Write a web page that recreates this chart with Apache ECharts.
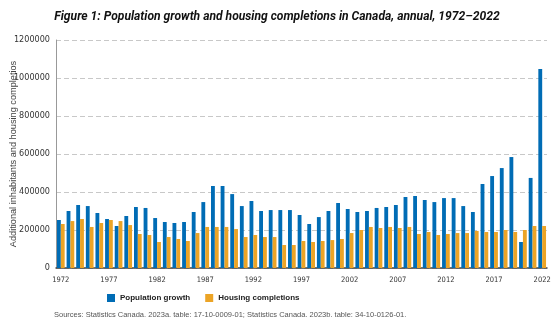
<!DOCTYPE html>
<html>
<head>
<meta charset="utf-8">
<script src="https://cdn.jsdelivr.net/npm/echarts@6/dist/echarts.min.js"></script>
<style>
  html, body { margin: 0; padding: 0; background: #fff; }
  #chart { width: 554px; height: 330px; }
</style>
</head>
<body>
<div id="chart"></div>
<script>
// Annual figures, 1972–2022
const years = [];
for (let y = 1972; y <= 2022; y++) years.push(String(y));

const populationGrowth = [
  252600, 300000, 331600, 326000, 289500, 258000, 221000, 273700, 321000, 316000,
  263000, 242000, 237000, 242000, 294700, 347000, 431600, 431600, 389000, 326000,
  352600, 300000, 305000, 305000, 305000, 279000, 231600, 268000, 300000, 342000,
  310500, 294700, 300000, 316000, 321000, 331600, 373700, 379000, 358000, 347000,
  368000, 368000, 326000, 294700, 442000, 484000, 526000, 584000, 137000, 474000,
  1047000
];

const housingCompletions = [
  231600, 247000, 258000, 216000, 237000, 252600, 247000, 226000, 179000, 173700,
  137000, 163000, 152600, 142000, 184000, 216000, 216000, 216000, 205000, 163000,
  173700, 163000, 163000, 121000, 121000, 142000, 137000, 142000, 147000, 152600,
  184000, 200000, 216000, 210500, 216000, 210500, 216000, 179000, 189500, 173700,
  179000, 184000, 184000, 195000, 189500, 189500, 200000, 189500, 200000, 221000,
  221000
];

const yTicks = [0, 200000, 400000, 600000, 800000, 1000000, 1200000];

const BLUE = '#006cb5';
const ORANGE = '#eca426';
const FONT = '"Liberation Sans", Arial, sans-serif';
const NARROW = '"Liberation Sans Narrow", "DejaVu Sans Condensed", "Liberation Sans", sans-serif';

const chart = echarts.init(document.getElementById('chart'), null, { renderer: 'canvas' });

chart.setOption({
  animation: false,
  backgroundColor: '#fff',
  title: {
    text: 'Figure 1: Population growth and housing completions in Canada, annual, 1972–2022',
    left: 'center',
    top: 6,
    textStyle: {
      fontFamily: 'Roboto, sans-serif',
      fontStyle: 'italic',
      fontWeight: 'bold',
      fontSize: 12.1,
      color: '#111'
    }
  },
  grid: { left: 56, right: 7, top: 40, bottom: 62, containLabel: false },
  legend: {
    left: 102,
    top: 289,
    itemWidth: 8,
    itemHeight: 8,
    itemGap: 15,
    icon: 'rect',
    textStyle: { fontFamily: FONT, fontSize: 8, fontWeight: 'bold', color: '#222' },
    data: ['Population growth', 'Housing completions']
  },
  xAxis: {
    type: 'category',
    data: years,
    boundaryGap: true,
    axisLine: { show: true, lineStyle: { color: '#444', width: 1.5 } },
    axisTick: { show: false },
    axisLabel: {
      interval: 4,
      fontFamily: NARROW,
      fontSize: 7.5,
      color: '#333',
      margin: 8
    },
    splitLine: { show: false }
  },
  yAxis: {
    type: 'value',
    min: yTicks[0],
    max: yTicks[yTicks.length - 1],
    interval: 200000,
    axisLine: { show: true, lineStyle: { color: '#999', width: 1 } },
    axisTick: { show: false },
    axisLabel: {
      fontFamily: NARROW,
      fontSize: 9,
      color: '#333',
      margin: 6,
      formatter: v => String(v)
    },
    splitLine: { show: true, lineStyle: { color: '#c8c8c8', type: [5, 3], width: 1 } }
  },
  graphic: [
    {
      type: 'text',
      x: 13,
      y: 154,
      rotation: Math.PI / 2,
      style: {
        text: 'Additional inhabitants and housing completios',
        font: '9.2px "Liberation Sans", Arial, sans-serif',
        fill: '#444',
        align: 'center',
        verticalAlign: 'middle'
      }
    },
    {
      type: 'text',
      x: 54,
      y: 315,
      style: {
        text: 'Sources: Statistics Canada. 2023a. table: 17-10-0009-01; Statistics Canada. 2023b. table: 34-10-0126-01.',
        font: '7.5px "Liberation Sans", Arial, sans-serif',
        fill: '#555',
        verticalAlign: 'middle'
      }
    }
  ],
  series: [
    {
      name: 'Population growth',
      type: 'bar',
      data: populationGrowth,
      barWidth: '40%',
      barGap: '0%',
      itemStyle: { color: BLUE }
    },
    {
      name: 'Housing completions',
      type: 'bar',
      data: housingCompletions,
      barWidth: '40%',
      barGap: '0%',
      itemStyle: { color: ORANGE }
    }
  ]
});
</script>
</body>
</html>
